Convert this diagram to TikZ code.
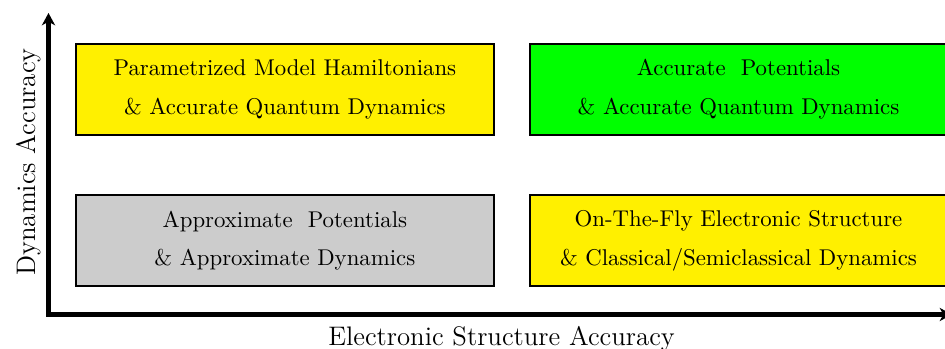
\documentclass[tikz,border=0pt]{standalone}
\usetikzlibrary{arrows.meta}
\definecolor{boxyellow}{RGB}{255,240,0}
\definecolor{boxgreen}{RGB}{0,255,0}
\definecolor{boxgray}{RGB}{204,204,204}
\tikzset{
  quad/.style={draw=black, line width=0.9pt, rectangle, inner sep=0pt,
    minimum width=417.8*0.4386pt, minimum height=90.3*0.4386pt,
    align=center, font={\fontsize{10}{16.9}\selectfont}},
  axisline/.style={line width=2pt, line join=miter,
    {Stealth[length=5.4pt,width=5.8pt,inset=1.6pt]}-{Stealth[length=5.4pt,width=5.8pt,inset=1.6pt]}},
  axislabel/.style={font={\fontsize{11.75}{14}\selectfont}, inner sep=0pt}
}
\begin{document}
\begin{tikzpicture}[x=0.4386pt,y=-0.4386pt]
\useasboundingbox (0,0) rectangle (945,349);
\coordinate (O) at (48.5,314.5);
\coordinate (xend) at (952,314.5);
\coordinate (yend) at (48.5,13);
\draw[axisline] (xend) -- (O) -- (yend);
\node[quad, fill=boxyellow] (pm) at (284.9,89.4) {Parametrized Model Hamiltonians\\ \& Accurate Quantum Dynamics};
\node[quad, fill=boxgreen] (ap) at (738.5,89.4) {Accurate\ \ Potentials\\ \& Accurate Quantum Dynamics};
\node[quad, fill=boxgray] (xp) at (284.9,240.6) {Approximate\ \ Potentials\\ \& Approximate Dynamics};
\node[quad, fill=boxyellow] (of) at (738.5,240.6) {On-The-Fly Electronic Structure\\ \& Classical/Semiclassical Dynamics};
\node[axislabel, anchor=base] (xl) at (501.5,345.5) {Electronic Structure Accuracy};
\node[axislabel, anchor=base, rotate=90] (yl) at (35,162) {Dynamics Accuracy};
\end{tikzpicture}
\end{document}
